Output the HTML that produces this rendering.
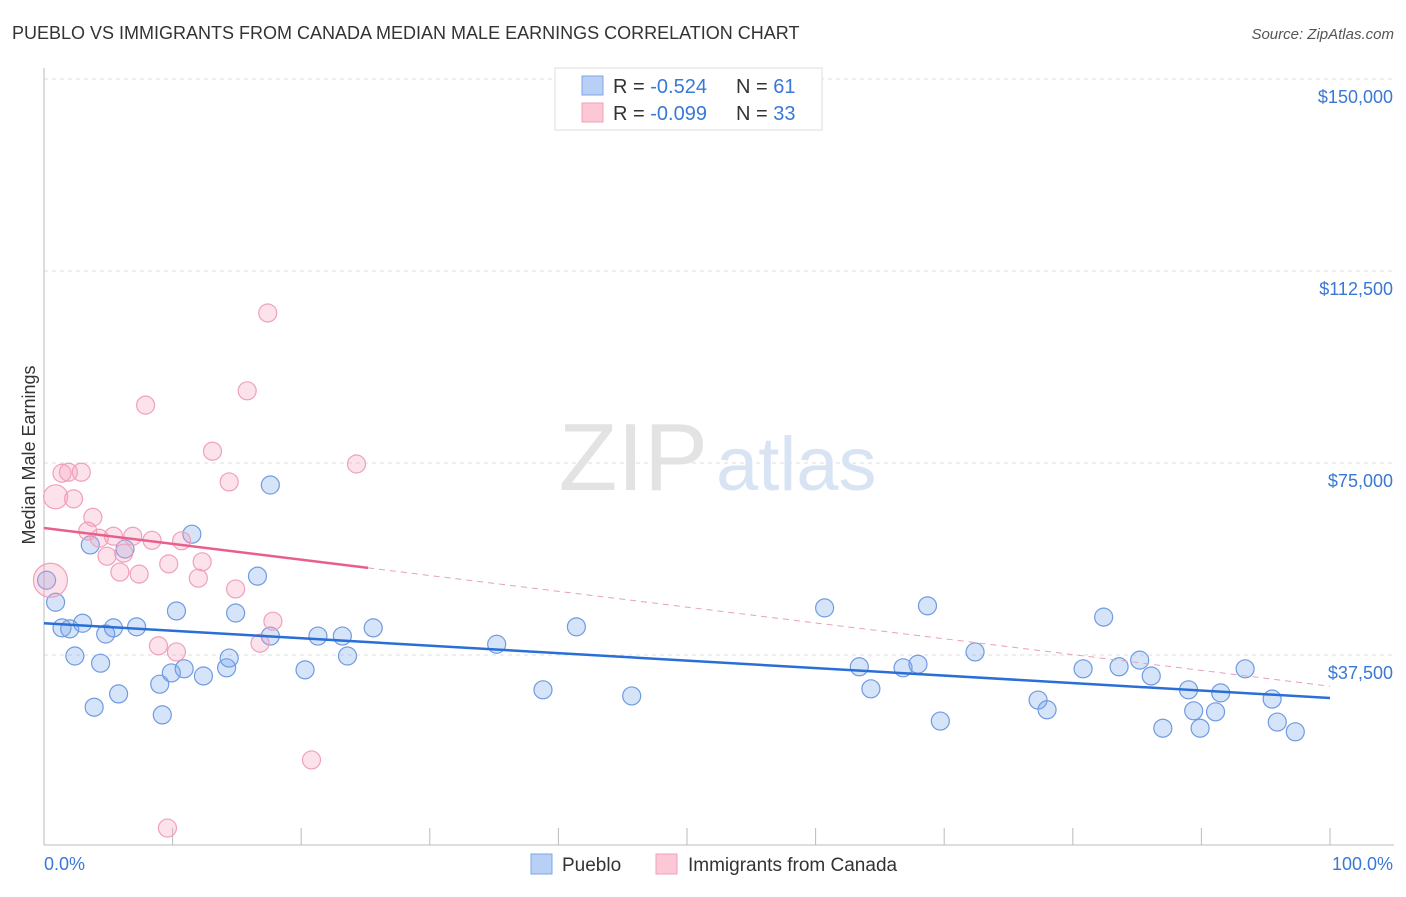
<!DOCTYPE html>
<html><head><meta charset="utf-8"><style>
body{margin:0;background:#fff;font-family:"Liberation Sans",sans-serif;}
svg text{font-family:"Liberation Sans",sans-serif;}
</style></head><body>
<svg width="1406" height="892" viewBox="0 0 1406 892">
<text x="12" y="39" font-size="18" fill="#333">PUEBLO VS IMMIGRANTS FROM CANADA MEDIAN MALE EARNINGS CORRELATION CHART</text>
<text x="1394" y="39" font-size="15" fill="#555" font-style="italic" text-anchor="end">Source: ZipAtlas.com</text>
<g id="grid"></g>
<text x="708" y="490" font-size="96" fill="#e3e3e3" text-anchor="end" font-family="Liberation Serif">ZIP</text>
<text x="716" y="490" font-size="76" fill="#d8e4f4">atlas</text>
<text x="35" y="455" font-size="18" fill="#333" text-anchor="middle" transform="rotate(-90 35 455)">Median Male Earnings</text>
<g id="marks"></g>
<g>
<rect x="555" y="68" width="267" height="62" fill="#fff" stroke="#ddd"/>
<rect x="582" y="76" width="21" height="19" fill="#b8d0f5" stroke="#7ea6e6"/>
<rect x="582" y="103" width="21" height="19" fill="#fcc8d6" stroke="#f0a0bb"/>
<text x="613" y="93" font-size="20" fill="#333">R = <tspan fill="#3a78d6">-0.524</tspan></text>
<text x="736" y="93" font-size="20" fill="#333">N = <tspan fill="#3a78d6"> 61</tspan></text>
<text x="613" y="120" font-size="20" fill="#333">R = <tspan fill="#3a78d6">-0.099</tspan></text>
<text x="736" y="120" font-size="20" fill="#333">N = <tspan fill="#3a78d6">33</tspan></text>
</g>
<g>
<rect x="531" y="854" width="21" height="20" fill="#b8d0f5" stroke="#7ea6e6"/>
<text x="562" y="871" font-size="19" fill="#333">Pueblo</text>
<rect x="656" y="854" width="21" height="20" fill="#fcc8d6" stroke="#f0a0bb"/>
<text x="688" y="871" font-size="19" fill="#333">Immigrants from Canada</text>
</g>
<text x="44" y="870" font-size="18" fill="#3a78d6">0.0%</text>
<text x="1393" y="870" font-size="18" fill="#3a78d6" text-anchor="end">100.0%</text>
</svg>
<script>
const yTicks=[37500,75000,112500,150000];
const yTickLabels=["$37,500","$75,000","$112,500","$150,000"];
const blueX=[0.2,0.9,1.4,2.0,3.0,2.4,3.6,4.4,4.8,5.4,5.8,3.9,6.3,7.2,9.0,9.2,9.9,10.3,10.9,11.5,12.4,14.2,14.4,14.9,16.6,17.6,17.6,20.3,21.3,23.2,23.6,25.6,35.2,38.8,41.4,45.7,60.7,63.4,64.3,66.8,67.96,68.7,69.7,72.4,77.3,78.0,80.8,82.4,83.6,85.2,86.1,87.0,89.0,89.4,89.9,91.1,91.5,93.4,95.5,95.9,97.3];
const blueY=[52.1,47.8,42.8,42.6,43.7,37.3,59.0,35.9,41.6,42.8,29.9,27.3,58.2,43.0,31.8,25.8,34.0,46.1,34.8,61.1,33.4,35.0,36.9,45.7,52.9,70.7,41.2,34.6,41.2,41.2,37.3,42.8,39.6,30.7,43.0,29.5,46.7,35.2,30.9,35.0,35.7,47.1,24.6,38.1,28.7,26.8,34.8,44.9,35.2,36.5,33.4,23.2,30.7,26.6,23.2,26.4,30.1,34.8,28.9,24.4,22.5];
const pinkX=[0.5,0.9,1.4,1.9,2.9,2.3,3.8,3.4,4.3,5.4,4.9,6.2,5.9,7.4,6.9,8.4,7.9,9.7,10.7,12.0,12.3,8.9,10.3,9.6,13.1,14.4,14.9,15.8,16.8,17.4,17.8,20.8,24.3];
const pinkY=[52.1,68.4,73.0,73.2,73.2,68.0,64.4,61.7,60.3,60.7,56.8,57.4,53.7,53.3,60.7,59.9,86.3,55.3,59.8,52.5,55.7,39.3,38.1,3.7,77.3,71.3,50.4,89.1,39.8,104.3,44.1,17.0,74.8];
const pinkR=[17,12,9,9,9,9,9,9,9,9,9,9,9,9,9,9,9,9,9,9,9,9,9,9,9,9,9,9,9,9,9,9,9];
const blueTrend=[43.7,29.1];
const pinkTrend=[62.3,31.4];
const pinkSolidEnd=25.2;
const NS="http://www.w3.org/2000/svg";
const sx=p=>44+p*12.86;
const sy=v=>847-v*1000/37500*192;
function mk(t,a,parent){const e=document.createElementNS(NS,t);for(const k in a)e.setAttribute(k,a[k]);parent.appendChild(e);return e;}
const grid=document.getElementById('grid');
const marks=document.getElementById('marks');
yTicks.forEach((v,i)=>{
 const l=mk('line',{x1:44,x2:1394,y1:sy(v/1000),y2:sy(v/1000),stroke:'#ddd','stroke-dasharray':'4,4'},grid);
 
 
 const t=mk('text',{x:1393,y:sy(v/1000)+24,'font-size':18,fill:'#3a78d6','text-anchor':'end'},grid);
 t.textContent=yTickLabels[i];
 
 
});
const ax=mk('line',{x1:44,x2:44,y1:68,y2:845,stroke:'#bbb'},grid);


const bx=mk('line',{x1:44,x2:1394,y1:845,y2:845,stroke:'#bbb'},grid);


for(let i=0;i<=10;i++){
 const t=mk('line',{x1:sx(i*10),x2:sx(i*10),y1:828,y2:845,stroke:'#bbb'},grid);
 
 
}
blueX.forEach((x,i)=>{
 const c=mk('circle',{cx:sx(x),cy:sy(blueY[i]),r:9,fill:'rgba(120,165,235,0.3)',stroke:'#6f9be0','stroke-width':1.2},marks);
 
 
});
pinkX.forEach((x,i)=>{
 const c=mk('circle',{cx:sx(x),cy:sy(pinkY[i]),r:pinkR[i],fill:'rgba(245,160,190,0.3)',stroke:'#f0a0bb','stroke-width':1.2},marks);
 
 
});
const bl=mk('line',{x1:sx(0),y1:sy(blueTrend[0]),x2:sx(100),y2:sy(blueTrend[1]),stroke:'#2a6fd6','stroke-width':2.5},marks);


const pv=p=>pinkTrend[0]+(pinkTrend[1]-pinkTrend[0])*p/100;
const pl=mk('line',{x1:sx(0),y1:sy(pv(0)),x2:sx(pinkSolidEnd),y2:sy(pv(pinkSolidEnd)),stroke:'#e8608a','stroke-width':2.5},marks);


const pd=mk('line',{x1:sx(pinkSolidEnd),y1:sy(pv(pinkSolidEnd)),x2:sx(100),y2:sy(pv(100)),stroke:'#e8a0b8','stroke-width':1,'stroke-dasharray':'6,5'},marks);


</script>
</body></html>
